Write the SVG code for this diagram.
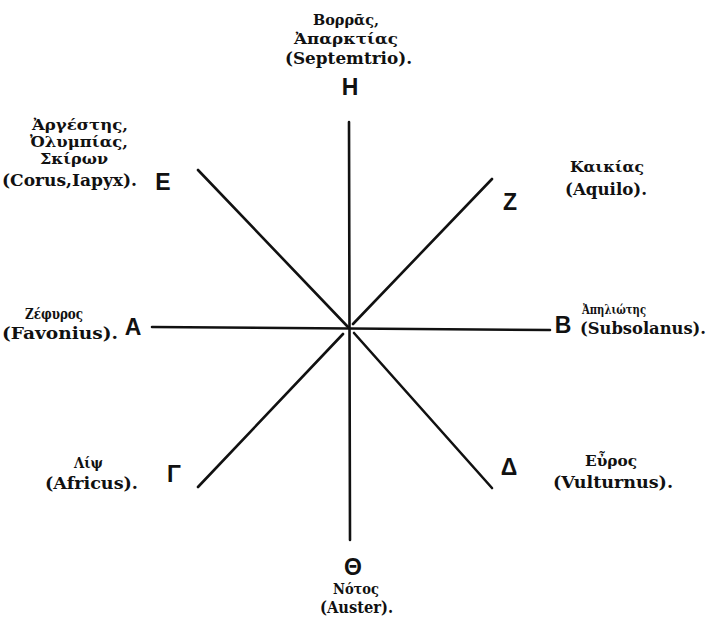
<svg xmlns="http://www.w3.org/2000/svg" width="708" height="631" viewBox="0 0 708 631">
<style>
.lbl{font-family:"DejaVu Serif","Liberation Serif",serif;font-weight:bold;font-size:16px;fill:#111;text-anchor:start}
.gr{font-family:"DejaVu Serif","Liberation Serif",serif;font-weight:bold;font-size:14px;fill:#111;text-anchor:start}
.let{font-family:"Liberation Sans","DejaVu Sans",sans-serif;font-weight:bold;font-size:23px;fill:#111;text-anchor:middle}
.ln{stroke:#111;stroke-width:2.6;stroke-linecap:round;fill:none}
</style>
<rect width="708" height="631" fill="#fff"/>
<g id="connectors">
<line class="ln" x1="349" y1="122" x2="350" y2="540"/>
<line class="ln" x1="152" y1="327" x2="550" y2="330"/>
<line class="ln" x1="198" y1="170" x2="348" y2="327"/>
<line class="ln" x1="492" y1="179" x2="353" y2="324"/>
<line class="ln" x1="198" y1="487" x2="343" y2="334"/>
<line class="ln" x1="492" y1="488" x2="354" y2="333"/>
</g>
<g id="node-H">
<text class="gr" x="313" y="25" textLength="66" lengthAdjust="spacingAndGlyphs">Βορρᾶς,</text>
<text class="gr" x="294" y="44" textLength="104" lengthAdjust="spacingAndGlyphs">Ἀπαρκτίας</text>
<text class="lbl" x="285" y="64" textLength="127" lengthAdjust="spacingAndGlyphs">(Septemtrio).</text>
<text class="let" x="350" y="95">H</text>
</g>
<g id="node-E">
<text class="gr" x="32" y="130" textLength="96" lengthAdjust="spacingAndGlyphs">Ἀργέστης,</text>
<text class="gr" x="30" y="147" textLength="98" lengthAdjust="spacingAndGlyphs">Ὀλυμπίας,</text>
<text class="gr" x="40" y="164" textLength="68" lengthAdjust="spacingAndGlyphs">Σκίρων</text>
<text class="lbl" x="2" y="186" textLength="135" lengthAdjust="spacingAndGlyphs">(Corus,Iapyx).</text>
<text class="let" x="163" y="190">E</text>
</g>
<g id="node-Z">
<text class="gr" x="570" y="172" textLength="74" lengthAdjust="spacingAndGlyphs">Καικίας</text>
<text class="lbl" x="565" y="195" textLength="82" lengthAdjust="spacingAndGlyphs">(Aquilo).</text>
<text class="let" x="510" y="210">Z</text>
</g>
<g id="node-A">
<text class="gr" x="25" y="319" textLength="58" lengthAdjust="spacingAndGlyphs">Ζέφυρος</text>
<text class="lbl" x="2" y="339" textLength="116" lengthAdjust="spacingAndGlyphs">(Favonius).</text>
<text class="let" x="133" y="335">A</text>
</g>
<g id="node-B">
<text class="gr" x="582" y="314" style="font-size:12.5px" textLength="64" lengthAdjust="spacingAndGlyphs">Ἀπηλιώτης</text>
<text class="lbl" x="580" y="334" textLength="126" lengthAdjust="spacingAndGlyphs">(Subsolanus).</text>
<text class="let" x="563" y="333">B</text>
</g>
<g id="node-G">
<text class="gr" x="74" y="468" textLength="29" lengthAdjust="spacingAndGlyphs">Λίψ</text>
<text class="lbl" x="45" y="489" textLength="93" lengthAdjust="spacingAndGlyphs">(Africus).</text>
<text class="let" x="174" y="482">Γ</text>
</g>
<g id="node-D">
<text class="gr" x="585" y="466" textLength="52" lengthAdjust="spacingAndGlyphs">Εὖρος</text>
<text class="lbl" x="553" y="488" textLength="120" lengthAdjust="spacingAndGlyphs">(Vulturnus).</text>
<text class="let" x="509" y="475">Δ</text>
</g>
<g id="node-Th">
<text class="let" x="353" y="575">Θ</text>
<text class="gr" x="333" y="594" textLength="46" lengthAdjust="spacingAndGlyphs">Νότος</text>
<text class="lbl" x="320" y="613" textLength="73" lengthAdjust="spacingAndGlyphs">(Auster).</text>
</g>
</svg>
